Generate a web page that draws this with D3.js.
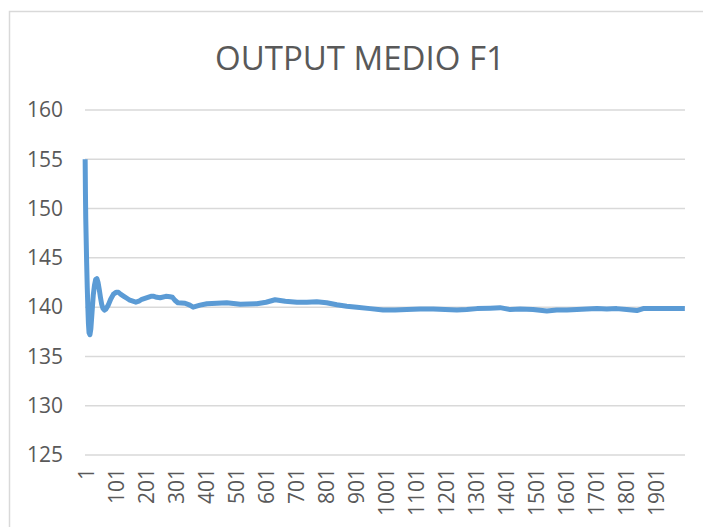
<!DOCTYPE html>
<html>
<head>
<meta charset="utf-8">
<script src="https://cdn.jsdelivr.net/npm/d3@7"></script>
<style>
html,body{margin:0;padding:0;background:#fff;}
svg{display:block;}
</style>
</head>
<body>
<svg id="chart" width="703" height="527"></svg>
<script>
(function(){
const title = "OUTPUT MEDIO F1";
const yTicks = [125, 130, 135, 140, 145, 150, 155, 160];
const xTickLabels = [1, 101, 201, 301, 401, 501, 601, 701, 801, 901, 1001, 1101, 1201, 1301, 1401, 1501, 1601, 1701, 1801, 1901];
const nCategories = 2000;
const sampleIndex = [1, 2, 3, 4, 5, 6, 8, 10, 12, 14, 17, 20, 24, 28, 32, 36, 40, 44, 48, 52, 56, 60, 65, 70, 78, 86, 95, 104, 112, 120, 130, 140, 150, 160, 170, 180, 190, 200, 210, 220, 230, 240, 251, 270, 284, 292, 300, 310, 334, 350, 361, 384, 407, 440, 473, 518, 573, 604, 634, 668, 707, 740, 773, 806, 840, 873, 907, 951, 994, 1034, 1073, 1118, 1161, 1201, 1240, 1273, 1307, 1351, 1384, 1418, 1451, 1494, 1540, 1573, 1607, 1640, 1673, 1707, 1740, 1773, 1806, 1840, 1861, 1901, 1951, 2000];
const sampleValue = [155.0, 151.5, 149.0, 147.5, 146.0, 144.5, 142.0, 140.0, 138.3, 137.4, 137.2, 137.8, 139.5, 141.2, 142.2, 142.8, 142.9, 142.5, 141.8, 141.0, 140.3, 139.9, 139.7, 139.8, 140.2, 140.8, 141.3, 141.5, 141.5, 141.3, 141.1, 140.9, 140.7, 140.6, 140.5, 140.6, 140.8, 140.9, 141.0, 141.1, 141.1, 141.0, 140.95, 141.1, 141.05, 141.0, 140.7, 140.45, 140.4, 140.2, 140.0, 140.2, 140.35, 140.4, 140.45, 140.3, 140.35, 140.5, 140.75, 140.6, 140.5, 140.5, 140.55, 140.45, 140.25, 140.1, 140.0, 139.85, 139.7, 139.7, 139.75, 139.8, 139.8, 139.75, 139.7, 139.75, 139.85, 139.9, 139.95, 139.75, 139.8, 139.75, 139.6, 139.7, 139.7, 139.75, 139.8, 139.85, 139.8, 139.85, 139.75, 139.65, 139.85, 139.85, 139.85, 139.85];

const svg = d3.select("#chart");
const W = 703, H = 527;
const pLeft = 85, pRight = 685, pTop = 110, pBottom = 455;

svg.append("rect").attr("x", 9.5).attr("y", 11.5).attr("width", W + 10).attr("height", H + 10)
  .attr("fill", "#fff").attr("stroke", "#d9d9d9").attr("stroke-width", 1.5);

const x = d3.scaleLinear().domain([0.5, nCategories + 0.5]).range([pLeft, pRight]);
const y = d3.scaleLinear().domain([125, 160]).range([pBottom, pTop]);

svg.append("g").selectAll("line").data(yTicks).join("line")
  .attr("x1", pLeft).attr("x2", pRight)
  .attr("y1", d => y(d)).attr("y2", d => y(d))
  .attr("stroke", "#d9d9d9").attr("stroke-width", 1.5);

const yAxis = d3.axisLeft(y).tickValues(yTicks).tickSize(0).tickPadding(0);
const gy = svg.append("g").attr("transform", `translate(${pLeft - 22},0)`).call(yAxis);
gy.select(".domain").remove();
gy.selectAll("text").attr("font-family", "Open Sans").attr("font-size", 21).attr("fill", "#595959");

const xAxis = d3.axisBottom(x).tickValues(xTickLabels).tickSize(0).tickPadding(0).tickFormat(d3.format("d"));
const gx = svg.append("g").attr("transform", `translate(0,${pBottom + 13})`).call(xAxis);
gx.select(".domain").remove();
gx.selectAll("text")
  .attr("font-family", "Open Sans").attr("font-size", 21).attr("fill", "#595959")
  .attr("text-anchor", "end").attr("dy", null).attr("y", 0).attr("x", 0)
  .attr("dominant-baseline", "central")
  .attr("transform", "rotate(-90)");

const data = sampleIndex.map((d, i) => ({i: d, v: sampleValue[i]}));
svg.append("path").datum(data)
  .attr("fill", "none").attr("stroke", "#5B9BD5").attr("stroke-width", 5)
  .attr("stroke-linejoin", "round")
  .attr("d", d3.line().x(d => x(d.i)).y(d => y(d.v)));

svg.append("text").attr("x", 360).attr("y", 70).attr("text-anchor", "middle")
  .attr("font-family", "Open Sans").attr("font-size", 33).attr("fill", "#595959")
  .text(title);
})();
</script>
</body>
</html>
